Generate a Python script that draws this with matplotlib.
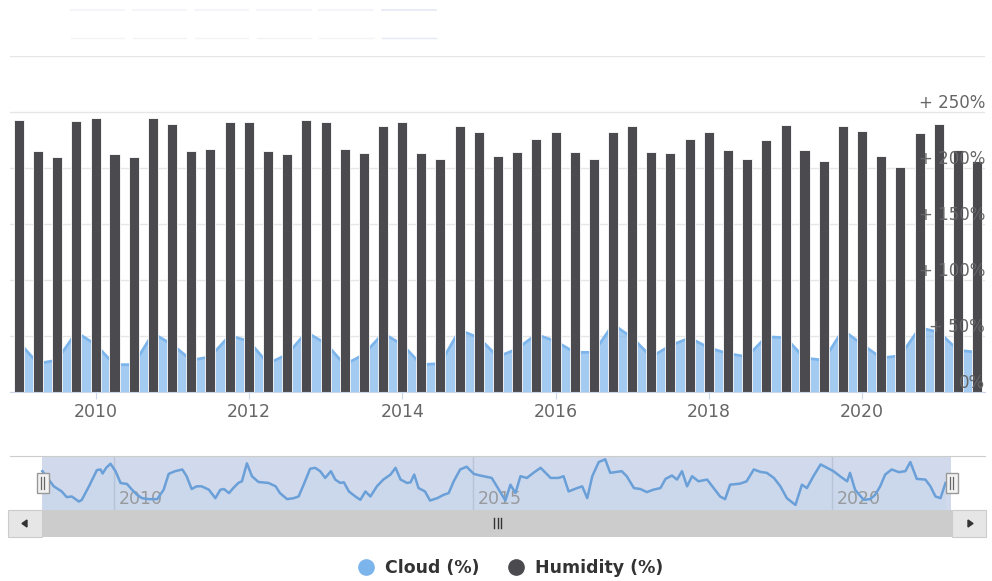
import matplotlib
matplotlib.use('Agg')
import matplotlib.pyplot as plt
import matplotlib.dates as mdates
import matplotlib.transforms as mtransforms
from matplotlib.lines import Line2D
from matplotlib.patches import Rectangle, Polygon
import numpy as np
import pandas as pd

# ============================================================================
# DATOS
# ============================================================================
quarters = pd.date_range('2009-01-01', '2021-07-01', freq='QS')

humidity = [243, 215, 210, 242, 245, 212, 210, 245, 239, 215,
            217, 241, 241, 215, 212, 243, 241, 217, 213, 237,
            241, 213, 208, 237, 232, 211, 214, 226, 232, 214,
            208, 232, 237, 214, 213, 226, 232, 216, 208, 225,
            238, 216, 206, 237, 233, 211, 201, 231, 239, 216,
            206]

cloud = [44, 25, 28, 53, 42, 24, 24, 52, 42, 28,
         31, 50, 45, 25, 33, 53, 43, 24, 33, 52,
         42, 24, 25, 55, 48, 31, 38, 51, 45, 35,
         35, 60, 48, 31, 41, 48, 39, 34, 31, 49,
         48, 30, 28, 55, 42, 30, 32, 57, 53, 37,
         35]

# serie del navegador (nube, mas detallada)
nav_years = [2009.00, 2009.16, 2009.27, 2009.34, 2009.41, 2009.51, 2009.55, 2009.65, 2009.76, 2009.81,
             2009.84, 2009.89, 2009.95, 2010.02, 2010.09, 2010.18, 2010.25, 2010.32, 2010.39, 2010.48,
             2010.60, 2010.69, 2010.76, 2010.85, 2010.95, 2011.01, 2011.08, 2011.15, 2011.22, 2011.32,
             2011.41, 2011.48, 2011.53, 2011.60, 2011.66, 2011.73, 2011.78, 2011.85, 2011.92, 2012.01,
             2012.15, 2012.25, 2012.31, 2012.41, 2012.50, 2012.57, 2012.64, 2012.73, 2012.80, 2012.87,
             2012.94, 2013.02, 2013.08, 2013.15, 2013.20, 2013.27, 2013.36, 2013.43, 2013.50, 2013.57,
             2013.66, 2013.75, 2013.85, 2013.92, 2013.99, 2014.08, 2014.13, 2014.18, 2014.24, 2014.33,
             2014.40, 2014.50, 2014.59, 2014.66, 2014.73, 2014.82, 2014.91, 2015.01, 2015.10, 2015.26,
             2015.36, 2015.45, 2015.52, 2015.59, 2015.66, 2015.75, 2015.84, 2015.94, 2016.08, 2016.19,
             2016.26, 2016.33, 2016.45, 2016.52, 2016.59, 2016.66, 2016.75, 2016.84, 2016.91, 2017.07,
             2017.14, 2017.24, 2017.33, 2017.42, 2017.51, 2017.61, 2017.68, 2017.77, 2017.84, 2017.91,
             2017.98, 2018.05, 2018.14, 2018.26, 2018.35, 2018.44, 2018.51, 2018.58, 2018.72, 2018.81,
             2018.91, 2019.00, 2019.09, 2019.19, 2019.28, 2019.37, 2019.49, 2019.58, 2019.65, 2019.74,
             2019.84, 2019.93, 2020.02, 2020.11, 2020.21, 2020.25, 2020.32, 2020.44, 2020.53, 2020.60,
             2020.67, 2020.74, 2020.83, 2020.93, 2021.02, 2021.09, 2021.18, 2021.30, 2021.37, 2021.44,
             2021.51, 2021.58]

nav_cloud = [50.0, 34.3, 29.0, 23.1, 23.8, 18.5, 20.3, 34.3, 51.1, 51.8,
             47.6, 53.5, 57.7, 50.0, 37.8, 36.7, 30.8, 25.5, 22.0, 21.0,
             21.0, 30.8, 47.2, 50.0, 51.8, 44.8, 31.5, 34.3, 34.3, 30.8,
             22.0, 30.8, 31.5, 27.3, 32.5, 37.8, 39.5, 58.1, 44.8, 38.8,
             37.8, 34.3, 27.3, 21.0, 22.0, 23.8, 36.0, 52.5, 53.5, 50.0,
             43.0, 50.0, 41.3, 37.8, 38.5, 29.0, 23.8, 20.3, 29.0, 23.8,
             34.3, 41.3, 46.5, 53.5, 41.3, 37.8, 38.5, 46.5, 32.5, 29.0,
             19.6, 22.0, 25.5, 27.3, 39.5, 51.8, 54.6, 47.2, 45.5, 43.0,
             30.8, 19.6, 36.0, 27.3, 44.8, 43.0, 48.3, 53.5, 43.0, 43.0,
             44.8, 29.0, 32.5, 34.3, 22.0, 44.8, 59.5, 62.3, 48.3, 50.0,
             44.8, 32.5, 31.5, 28.3, 30.8, 32.5, 42.0, 45.5, 41.3, 50.0,
             34.3, 44.8, 39.5, 41.3, 32.5, 23.8, 21.0, 36.0, 37.1, 39.5,
             51.8, 49.3, 48.3, 43.0, 34.3, 22.0, 15.0, 36.0, 32.5, 44.8,
             57.0, 53.5, 50.0, 44.8, 39.5, 48.3, 30.8, 20.3, 21.0, 25.5,
             34.3, 46.5, 51.8, 49.0, 50.0, 59.5, 42.0, 41.3, 34.3, 23.8,
             22.0, 37.8]

y_ticks = [0, 50, 100, 150, 200, 250]
y_labels = ['0%', '+ 50%', '+ 100%', '+ 150%', '+ 200%', '+ 250%']
nav_years_labels = [2010, 2015, 2020]

print(len(quarters), len(humidity), len(cloud), len(nav_years), len(nav_cloud))

W, H = 992, 581
fig = plt.figure(figsize=(W / 100, H / 100), dpi=100)

# ============================================================================
# GRAFICA PRINCIPAL
# ============================================================================
ax = fig.add_axes([10 / W, 1 - 391.5 / H, 975 / W, (391.5 - 56) / H])
ax.set_ylim(0, 300)
ax.set_xlim(pd.Timestamp('2008-11-19'), pd.Timestamp('2021-08-08'))

for v in y_ticks + [300]:
    ax.axhline(v, color='#e6e6e6', lw=1, zorder=0)

ax.fill_between(quarters, cloud, color='#7cb5ec', alpha=0.7, lw=0, zorder=1)
ax.plot(quarters, cloud, color='#7cb5ec', lw=2, zorder=2)
ax.bar(quarters, humidity, width=48, color='#4a4a4f', edgecolor='white',
       linewidth=0.6, zorder=3)

for s in ['top', 'left', 'right']:
    ax.spines[s].set_visible(False)
ax.spines['bottom'].set_color('#ccd6eb')
ax.spines['bottom'].set_zorder(4)
ax.set_yticks([])
ax.xaxis.set_major_locator(mdates.YearLocator(2))
ax.xaxis.set_major_formatter(mdates.DateFormatter('%Y'))
ax.tick_params(axis='x', length=5, color='#ccd6eb', labelsize=12.5,
               labelcolor='#666666', pad=3)

lab_tr = mtransforms.offset_copy(ax.get_yaxis_transform(), fig=fig, x=0, y=4, units='dots')
for v, lab in zip(y_ticks, y_labels):
    ax.text(1.0, v, lab, transform=lab_tr, ha='right', va='baseline',
            fontsize=12, color='#666666', zorder=6)

# ============================================================================
# NAVEGADOR
# ============================================================================
nav = fig.add_axes([10 / W, 1 - 510 / H, 975 / W, 54 / H])
nav.set_xlim(2008.55, 2022.13)
nav.set_ylim(9.75, 65.75)
nav.axvspan(2009.0, 2021.66, color=(102 / 255, 133 / 255, 194 / 255), alpha=0.3, lw=0, zorder=1)
for yr in nav_years_labels:
    nav.axvline(yr, color='#e0e0e0', lw=1, zorder=0)
    nav.text(yr + 0.07, 0.2, str(yr), transform=nav.get_xaxis_transform(),
             ha='left', va='center', fontsize=12.5, color='#999999', zorder=2)
nav.fill_between(nav_years, nav_cloud, 0, color='#7cb5ec', alpha=0.05, lw=0, zorder=2)
nav.plot(nav_years, nav_cloud, color='#6a9fd8', lw=1.8, zorder=3)
for s in ['left', 'right', 'bottom']:
    nav.spines[s].set_visible(False)
nav.spines['top'].set_color('#cccccc')
nav.set_xticks([])
nav.set_yticks([])

# ============================================================================
# CONTROLES (scrollbar, asas, botones)
# ============================================================================
ui = fig.add_axes([0, 0, 1, 1])
ui.set_xlim(0, W)
ui.set_ylim(H, 0)
ui.axis('off')

# botones del selector de rango (casi invisibles)
for i, (x0, x1) in enumerate([(71, 124), (133, 186), (195, 248), (257, 311), (319, 373), (382, 436)]):
    c = '#e3e9f4' if i == 5 else '#f1f3f7'
    ui.plot([x0, x1], [9.5, 9.5], color=c, lw=1.2)
    ui.plot([x0, x1], [38, 38], color=c, lw=1)

# scrollbar
ui.add_patch(Rectangle((8, 510), 979, 27, facecolor='#f2f2f2', edgecolor='none'))
ui.add_patch(Rectangle((42, 510), 910, 27, facecolor='#cccccc', edgecolor='none'))
ui.add_patch(Rectangle((8, 510), 34, 27, facecolor='#e6e6e6', edgecolor='#cccccc', lw=0.8))
ui.add_patch(Rectangle((952, 510), 34, 27, facecolor='#e6e6e6', edgecolor='#cccccc', lw=0.8))
ui.add_patch(Polygon([[22, 523.5], [27, 520], [27, 527]], closed=True, color='#333333'))
ui.add_patch(Polygon([[973, 523.5], [968, 520], [968, 527]], closed=True, color='#333333'))
for gx in [494, 497.5, 501]:
    ui.plot([gx, gx], [518, 528], color='#333333', lw=1)

# asas del navegador
for hx in [42.5, 951.5]:
    ui.add_patch(Rectangle((hx - 6, 473), 12, 20, facecolor='#f2f2f2', edgecolor='#999999', lw=1))
    for dx in [-1.5, 1.5]:
        ui.plot([hx + dx, hx + dx], [477, 489], color='#666666', lw=0.9)

# ============================================================================
# LEYENDA
# ============================================================================
handles = [Line2D([], [], marker='o', ls='', markersize=11, color='#7cb5ec'),
           Line2D([], [], marker='o', ls='', markersize=11, color='#4a4a4f')]
fig.legend(handles, ['Cloud (%)', 'Humidity (%)'], loc='center',
           bbox_to_anchor=(0.514, 1 - 568 / H), ncol=2, frameon=False,
           prop={'weight': 'bold', 'size': 12.5}, labelcolor='#333333',
           handlelength=1, handletextpad=0.6, columnspacing=1.6)

plt.savefig('out.png', dpi=100, facecolor='white')
print("Guardado out.png")
